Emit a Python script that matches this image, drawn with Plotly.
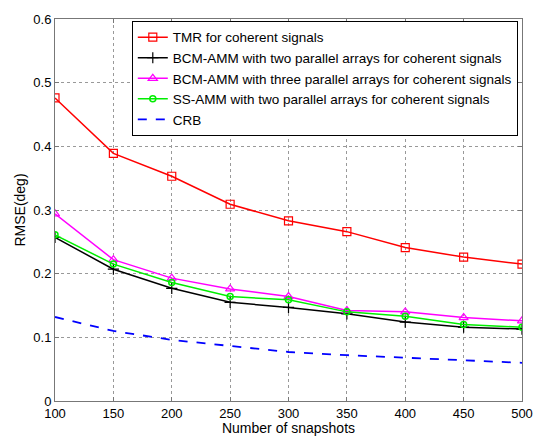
import plotly.graph_objects as go

snapshots = [100, 150, 200, 250, 300, 350, 400, 450, 500]
tmr = [0.476, 0.389, 0.353, 0.309, 0.283, 0.266, 0.241, 0.226, 0.215]
bcm_two = [0.257, 0.207, 0.177, 0.155, 0.147, 0.137, 0.124, 0.116, 0.113]
bcm_three = [0.294, 0.222, 0.193, 0.176, 0.164, 0.142, 0.140, 0.131, 0.126]
ss_two = [0.261, 0.215, 0.186, 0.164, 0.159, 0.140, 0.133, 0.120, 0.116]
crb = [0.132, 0.110, 0.096, 0.086, 0.077, 0.072, 0.068, 0.064, 0.060]

names = [
    "TMR for coherent signals",
    "BCM-AMM with two parallel arrays for coherent signals",
    "BCM-AMM with three parallel arrays for coherent signals",
    "SS-AMM with two parallel arrays for coherent signals",
    "CRB",
]

fig = go.Figure()
fig.add_trace(go.Scatter(x=snapshots, y=tmr, name=names[0], mode="lines+markers",
                         line=dict(color="#ff0000", width=1.5),
                         marker=dict(symbol="square-open", size=8, color="#ff0000", line=dict(width=1.2))))
fig.add_trace(go.Scatter(x=snapshots, y=bcm_two, name=names[1], mode="lines+markers",
                         line=dict(color="#000000", width=1.5),
                         marker=dict(symbol="cross-thin", size=8, color="#000000", line=dict(width=1.2, color="#000000"))))
fig.add_trace(go.Scatter(x=snapshots, y=bcm_three, name=names[2], mode="lines+markers",
                         line=dict(color="#ff00ff", width=1.5),
                         marker=dict(symbol="triangle-up-open", size=8, color="#ff00ff", line=dict(width=1.2))))
fig.add_trace(go.Scatter(x=snapshots, y=ss_two, name=names[3], mode="lines+markers",
                         line=dict(color="#00ee00", width=1.5),
                         marker=dict(symbol="circle-open", size=6, color="#00ee00", line=dict(width=1.5))))
fig.add_trace(go.Scatter(x=snapshots, y=crb, name=names[4], mode="lines",
                         line=dict(color="#0000ff", width=1.8, dash="dash")))

axis_common = dict(
    showline=True, linecolor="#777777", linewidth=1, mirror="ticks",
    ticks="inside", ticklen=4, tickcolor="#777777",
    showgrid=True, gridcolor="#999999", griddash="dot", gridwidth=1,
    zeroline=False, automargin=False,
    tickfont=dict(family="Liberation Sans, Arial", size=13, color="#000000"),
)

fig.update_xaxes(range=[100, 500], tickvals=[100, 150, 200, 250, 300, 350, 400, 450, 500],
                 title=dict(text="Number of snapshots", font=dict(size=14, color="#000000"), standoff=4),
                 **axis_common)
fig.update_yaxes(range=[0, 0.6], tickvals=[0, 0.1, 0.2, 0.3, 0.4, 0.5, 0.6],
                 ticktext=["0", "0.1", "0.2", "0.3", "0.4", "0.5", "0.6"],
                 title=dict(text="RMSE(deg)", font=dict(size=14, color="#000000"), standoff=4),
                 **axis_common)

fig.update_layout(
    width=534, height=436,
    margin=dict(l=55, r=12, t=19, b=35),
    paper_bgcolor="white", plot_bgcolor="white",
    font=dict(family="Liberation Sans, Arial", size=12, color="#000000"),
    legend=dict(x=0.991, y=0.995, xanchor="right", yanchor="top",
                bgcolor="white", bordercolor="#000000", borderwidth=1,
                font=dict(size=13.5), tracegroupgap=0, itemwidth=30),
    showlegend=True,
)

fig.write_html("out.html")
